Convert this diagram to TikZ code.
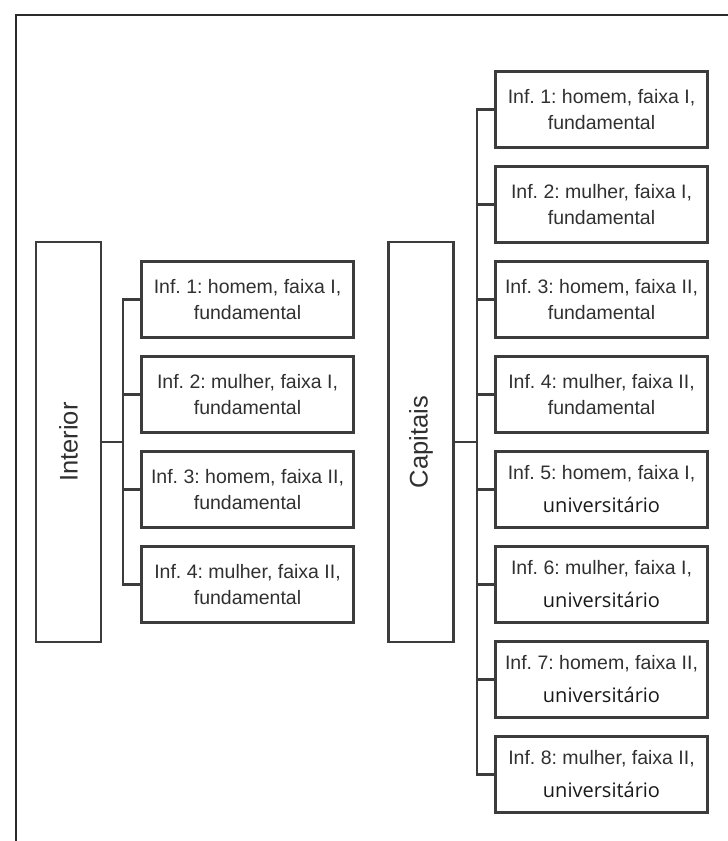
\documentclass[tikz,border=0pt]{standalone}
\usepackage{fontspec}
\setmainfont{Liberation Sans}
\newfontfamily\segoe{Open Sans}
\usepackage{graphicx}
\definecolor{linha}{HTML}{3C3C3C}
\definecolor{texto}{HTML}{303030}
\newcommand{\univ}{{\segoe\color{black!90}\fontsize{20}{26}\selectfont universitário}}
\frenchspacing
\begin{document}
\begin{tikzpicture}[x=1pt,y=-1pt]
    \tikzstyle{grupo}= [draw=linha, line width=2.2pt, minimum width=65pt, minimum height=400pt, inner sep=0pt, text=texto, font=\fontsize{25.5}{30}\selectfont]
    \tikzstyle{caixa}= [draw=linha, line width=2.2pt, minimum width=212pt, minimum height=76pt, inner sep=0pt, align=center, text=texto, font=\fontsize{19.5}{26}\selectfont]
    \tikzstyle{ramo}= [linha, line width=2.2pt, line cap=rect]
  \def\meio{442}
  \def\passo{95}

  \useasboundingbox (0,0) rectangle (728,841);
  \draw[linha!70!black, line width=2.6pt] (16,841) -- (16,15) -- (728,15);

  % interior
  \node[grupo] (int) at (68.5,\meio) {\rotatebox{90}{Interior}};
  \draw[ramo] (int.east) -- ++(21,0) coordinate (ei);
  \foreach \t/\e [count=\i] in {homem/I,mulher/I,homem/II,mulher/II}
    \node[caixa] (esq\i) at (247.5,{\meio+(\i-2.5)*\passo}) {Inf. \i: \t, faixa \e,\\fundamental};
  \draw[ramo] (ei |- esq1.west) -- (ei |- esq4.west);
  \foreach \i in {1,...,4}
    \draw[ramo] (ei |- esq\i.west) -- (esq\i.west);

  % capitais
  \node[grupo] (cap) at (421,\meio) {\rotatebox{90}{Capitais}};
  \draw[ramo] (cap.east) -- ++(22,0) coordinate (ec);
  \foreach \t/\e/\l/\d [count=\i] in {homem/I/fundamental/0pt,mulher/I/fundamental/0pt,
      homem/II/fundamental/0pt,mulher/II/fundamental/0pt,homem/I/\univ/7pt,
      mulher/I/\univ/7pt,homem/II/\univ/7pt,mulher/II/\univ/7pt}
    \node[caixa] (dir\i) at (601.5,{\meio+(\i-4.5)*\passo}) {Inf. \i: \t, faixa \e,\\[\d]\l};
  \draw[ramo] (ec |- dir1.west) -- (ec |- dir8.west);
  \foreach \i in {1,...,8}
    \draw[ramo] (ec |- dir\i.west) -- (dir\i.west);

\end{tikzpicture}
\end{document}
